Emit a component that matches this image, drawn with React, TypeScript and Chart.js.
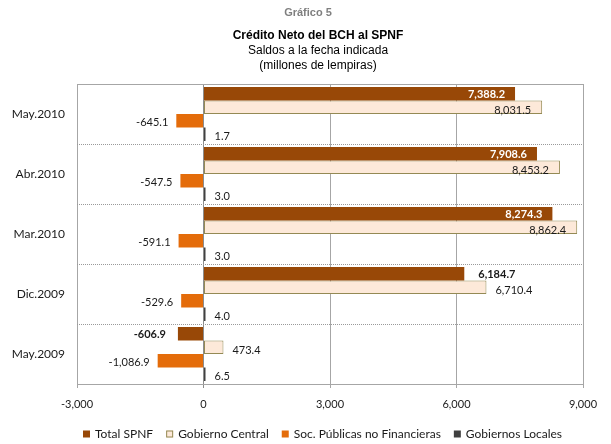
import React, { useEffect, useRef } from 'react';
import { Chart, registerables } from 'chart.js';

Chart.register(...registerables);

const categories = ['May.2010', 'Abr.2010', 'Mar.2010', 'Dic.2009', 'May.2009'];
const seriesNames = ['Total SPNF', 'Gobierno Central', 'Soc. Públicas no Financieras', 'Gobiernos Locales'];
const totalSPNF = [7388.2, 7908.6, 8274.3, 6184.7, -606.9];
const gobiernoCentral = [8031.5, 8453.2, 8862.4, 6710.4, 473.4];
const socPublicas = [-645.1, -547.5, -591.1, -529.6, -1086.9];
const gobiernosLocales = [1.7, 3.0, 3.0, 4.0, 6.5];
const xTickValues = [-3000, 0, 3000, 6000, 9000];

const titleLines = ['Gráfico 5', 'Crédito Neto del BCH al SPNF', 'Saldos a la fecha indicada', '(millones de lempiras)'];

const COLORS = {
  total: '#984807',
  central: '#FDE9D9',
  centralBorder: '#948A54',
  soc: '#E46C0A',
  locales: '#404040',
  grid: '#a6a6a6',
  text: '#1a1a1a',
};

const LABEL_FONT = 'Lato, "Open Sans", sans-serif';
const TITLE_FONT = '"Liberation Sans", Arial, sans-serif';

function fmtNum(v: number, dec: number) {
  const s = Math.abs(v).toFixed(dec);
  const parts = s.split('.');
  const i = parts[0].replace(/\B(?=(\d{3})+(?!\d))/g, ',');
  return (v < 0 ? '-' : '') + i + (dec > 0 ? '.' + parts[1] : '');
}

const headerPlugin = {
  id: 'header',
  afterDraw(chart: any) {
    const ctx = chart.ctx;
    ctx.save();
    ctx.textAlign = 'center';
    ctx.textBaseline = 'middle';
    ctx.fillStyle = '#7f7f7f';
    ctx.font = 'bold 11px ' + TITLE_FONT;
    ctx.fillText(titleLines[0], 308, 13);
    ctx.fillStyle = '#000';
    ctx.font = 'bold 12px ' + TITLE_FONT;
    ctx.fillText(titleLines[1], 318, 36);
    ctx.font = '12px ' + TITLE_FONT;
    ctx.fillText(titleLines[2], 318, 51);
    ctx.fillText(titleLines[3], 318, 66);
    ctx.restore();
  },
};

const framePlugin = {
  id: 'frame',
  beforeDatasetsDraw(chart: any) {
    const ctx = chart.ctx;
    const a = chart.chartArea;
    const y = chart.scales.y;
    ctx.save();
    ctx.strokeStyle = COLORS.grid;
    ctx.lineWidth = 1;
    ctx.beginPath();
    ctx.moveTo(a.left, a.top + 0.5);
    ctx.lineTo(a.right, a.top + 0.5);
    ctx.moveTo(Math.round(a.right) + 0.5, a.top);
    ctx.lineTo(Math.round(a.right) + 0.5, a.bottom);
    ctx.stroke();
    ctx.setLineDash([1, 1]);
    ctx.strokeStyle = '#9a9a9a';
    ctx.beginPath();
    for (let i = 0; i < categories.length - 1; i++) {
      const p = Math.round((y.getPixelForValue(i) + y.getPixelForValue(i + 1)) / 2) + 0.5;
      ctx.moveTo(a.left, p);
      ctx.lineTo(a.right, p);
    }
    ctx.stroke();
    ctx.restore();
  },
};

const labelsPlugin = {
  id: 'barLabels',
  afterDatasetsDraw(chart: any) {
    const ctx = chart.ctx;
    const area = chart.chartArea;
    ctx.save();
    ctx.textBaseline = 'middle';
    chart.data.datasets.forEach((ds: any, di: number) => {
      const meta = chart.getDatasetMeta(di);
      meta.data.forEach((bar: any, i: number) => {
        const v = ds.data[i] as number;
        const p = bar.getProps(['x', 'y', 'base'], true);
        const txt = fmtNum(v, 1);
        let tx = 0;
        let ty = p.y + 1;
        let align: CanvasTextAlign = 'left';
        let color = COLORS.text;
        let bold = false;
        if (di === 0) {
          bold = true;
          if (v > 0 && p.x - p.base > 280) {
            tx = p.x - 10;
            align = 'right';
            color = '#ffffff';
          } else if (v > 0) {
            tx = p.x + 14;
            align = 'left';
          } else {
            tx = p.x - 12;
            align = 'right';
          }
        } else if (di === 1) {
          ctx.font = '11px ' + LABEL_FONT;
          const w = ctx.measureText(txt).width;
          ty = p.y + 3;
          if (p.x + 10 + w <= area.right) {
            tx = p.x + 9;
            align = 'left';
          } else {
            tx = p.x - 11;
            align = 'right';
          }
        } else if (di === 2) {
          tx = p.x - 8;
          align = 'right';
          ty = p.y + 2;
        } else {
          tx = p.x + 9;
          align = 'left';
          ty = p.y + 2;
        }
        ctx.font = (bold ? 'bold ' : '') + '11px ' + LABEL_FONT;
        ctx.fillStyle = color;
        ctx.textAlign = align;
        ctx.fillText(txt, tx, ty);
      });
    });
    ctx.restore();
  },
};

const legendPlugin = {
  id: 'customLegend',
  afterDraw(chart: any) {
    const ctx = chart.ctx;
    const ds = chart.data.datasets;
    ctx.save();
    ctx.font = '12px ' + LABEL_FONT;
    ctx.textBaseline = 'middle';
    ctx.textAlign = 'left';
    const box = 7;
    const gapBox = 5;
    const gapItem = 13;
    const widths = ds.map((d: any) => ctx.measureText(d.label).width);
    const total = widths.reduce((s: number, w: number) => s + box + gapBox + w, 0) + gapItem * (ds.length - 1);
    let x = Math.round(322 - total / 2);
    const cy = 434;
    ds.forEach((d: any, i: number) => {
      ctx.fillStyle = d.backgroundColor;
      ctx.fillRect(x, cy - 3.5, box, box);
      if (d.borderWidth) {
        ctx.strokeStyle = d.borderColor;
        ctx.lineWidth = 1;
        ctx.strokeRect(x + 0.5, cy - 3, box - 1, box - 1);
      }
      ctx.fillStyle = COLORS.text;
      ctx.fillText(d.label, x + box + gapBox, cy + 0.5);
      x += box + gapBox + widths[i] + gapItem;
    });
    ctx.restore();
  },
};

export default function App() {
  const ref = useRef<HTMLCanvasElement | null>(null);
  useEffect(() => {
    if (!ref.current) return;
    const chart = new Chart(ref.current, {
      type: 'bar',
      data: {
        labels: categories,
        datasets: [
          { label: seriesNames[0], data: totalSPNF, backgroundColor: COLORS.total, borderWidth: 0 },
          {
            label: seriesNames[1],
            data: gobiernoCentral,
            backgroundColor: COLORS.central,
            borderColor: COLORS.centralBorder,
            borderWidth: 1,
            borderSkipped: false,
          },
          { label: seriesNames[2], data: socPublicas, backgroundColor: COLORS.soc, borderWidth: 0 },
          { label: seriesNames[3], data: gobiernosLocales, backgroundColor: COLORS.locales, borderWidth: 0, minBarLength: 2 },
        ],
      },
      options: {
        indexAxis: 'y',
        responsive: false,
        animation: false,
        maintainAspectRatio: false,
        layout: { padding: { top: 84, right: 28, bottom: 0, left: 0 } },
        datasets: { bar: { categoryPercentage: 0.9, barPercentage: 1.0 } },
        plugins: {
          legend: { display: false },
          title: { display: false },
          tooltip: { enabled: false },
        },
        scales: {
          x: {
            type: 'linear',
            min: xTickValues[0],
            max: xTickValues[xTickValues.length - 1],
            afterBuildTicks(scale: any) {
              scale.ticks = xTickValues.map((v) => ({ value: v }));
            },
            afterFit(scale: any) {
              scale.height = 60;
            },
            grid: {
              color: (c: any) => (c.tick && c.tick.value === 0 ? '#8c8c8c' : COLORS.grid),
              lineWidth: 1,
              drawTicks: true,
              tickLength: 4,
            },
            border: { display: true, color: COLORS.grid },
            ticks: {
              padding: 10,
              color: COLORS.text,
              font: { family: LABEL_FONT, size: 11 },
              maxRotation: 0,
              callback: (v: any) => fmtNum(Number(v), 0),
            },
          },
          y: {
            type: 'category',
            afterFit(scale: any) {
              scale.width = 77;
            },
            grid: { display: false, drawTicks: false },
            border: { display: true, color: COLORS.grid },
            ticks: {
              padding: 12,
              color: COLORS.text,
              font: { family: LABEL_FONT, size: 12 },
            },
          },
        },
      },
      plugins: [headerPlugin, framePlugin, labelsPlugin, legendPlugin],
    } as any);
    return () => chart.destroy();
  }, []);
  return (
    <div style={{ position: 'absolute', left: 0, top: 0, width: 611, height: 444, background: '#fff' }}>
      <canvas ref={ref} width={611} height={444} style={{ width: 611, height: 444, display: 'block' }} />
    </div>
  );
}
